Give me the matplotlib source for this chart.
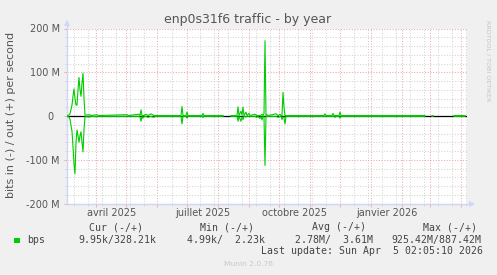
import numpy as np
import matplotlib
matplotlib.use('Agg')
import matplotlib.pyplot as plt
import matplotlib.dates as mdates
from datetime import datetime

# ---------------- data (Mbit/s) ----------------
dates = [
    '2025-03-03', '2025-03-05', '2025-03-06', '2025-03-08', '2025-03-09', '2025-03-10',
    '2025-03-11', '2025-03-12', '2025-03-13', '2025-03-14', '2025-03-15', '2025-03-16',
    '2025-03-17', '2025-03-18', '2025-03-19', '2025-03-20', '2025-03-21',
    '2025-03-26', '2025-03-27', '2025-04-02', '2025-04-03', '2025-05-02', '2025-05-03',
    '2025-05-14', '2025-05-15', '2025-05-16', '2025-05-17', '2025-05-18', '2025-05-19',
    '2025-05-21', '2025-05-23', '2025-05-26', '2025-05-29', '2025-05-30',
    '2025-06-25', '2025-06-26', '2025-06-27', '2025-06-30', '2025-07-01', '2025-07-02',
    '2025-07-16', '2025-07-17', '2025-07-18', '2025-08-06', '2025-08-07', '2025-08-14',
    '2025-08-20', '2025-08-21', '2025-08-22', '2025-08-24', '2025-08-25', '2025-08-26',
    '2025-08-27', '2025-08-29', '2025-08-30', '2025-09-01', '2025-09-02', '2025-09-07',
    '2025-09-09', '2025-09-10', '2025-09-12', '2025-09-13', '2025-09-14', '2025-09-15',
    '2025-09-16', '2025-09-17', '2025-09-18', '2025-09-19', '2025-09-20',
    '2025-09-28', '2025-09-30', '2025-10-02', '2025-10-03', '2025-10-04', '2025-10-05',
    '2025-10-06', '2025-10-07', '2025-10-08',
    '2025-11-15', '2025-11-16', '2025-11-17', '2025-11-23', '2025-11-24', '2025-11-25',
    '2025-11-26', '2025-11-27', '2025-11-30', '2025-12-01', '2025-12-02',
    '2026-02-24', '2026-02-25', '2026-03-03', '2026-03-04', '2026-03-05', '2026-03-25',
    '2026-04-05',
]
out_mbps = [
    1.0, 2, 5, 25, 45, 62,
    40, 25, 25, 60, 88, 60,
    45, 75, 98, 40, 2,
    3, 1.0, 3, 1.0, 3, 1.0,
    4, 1.0, 14, 1.0, 1.0, 1.0,
    4, 1.0, 5, 1.0, 1.0,
    1.0, 22, 1.0, 1.0, 9, 1.0,
    1.0, 6, 1.0, 1.0, np.nan, 1.0,
    1.0, 21, 1.0, 11, 2, 20,
    1.0, 9, 1.0, 6, 1.0, 4,
    1.0, 1.0, 1.0, 2, 4, 1.0,
    5, 172, 1.0, 3, 1.0,
    5, 1.0, 4, 1.0, 1.0, 54,
    20, 1.0, 1.0,
    1.0, 5, 1.0, 1.0, 6, 1.0,
    1.0, 1.0, 1.0, 9, 1.0,
    1.0, np.nan, 1.0, 1.0, np.nan, 1.0,
    1.0,
]
in_mbps = [
    0.8, 2, 8, 35, 70, 110,
    132, 60, 32, 45, 60, 45,
    36, 60, 82, 30, 1.5,
    2, 0.8, 1.5, 0.8, 0.8, 0.8,
    0.8, 2, 12, 0.8, 5, 0.8,
    0.8, 3, 0.8, 3, 0.8,
    0.8, 18, 0.8, 0.8, 5, 0.8,
    0.8, 3, 0.8, 0.8, np.nan, 0.8,
    0.8, 12, 0.8, 12, 2, 8,
    0.8, 2, 0.8, 0.8, 0.8, 0.8,
    3, 0.8, 6, 0.8, 9, 0.8,
    3, 113, 0.8, 0.8, 0.8,
    0.8, 3, 0.8, 0.8, 8, 1.5,
    4, 18, 0.8,
    0.8, 0.8, 0.8, 0.8, 0.8, 0.8,
    3, 0.8, 0.8, 5, 0.8,
    0.8, np.nan, 0.8, 0.8, np.nan, 0.8,
    0.8,
]

y_ticks = [-200, -100, 0, 100, 200]
y_tick_labels = ['-200 M', '-100 M', '0  ', '100 M', '200 M']
x_labels = ['avril 2025', 'juillet 2025', 'octobre 2025', 'janvier 2026']
x_label_dates = ['2025-04-17', '2025-07-17', '2025-10-17', '2026-01-17']

legend_header = ['Cur (-/+)', 'Min (-/+)', 'Avg (-/+)', 'Max (-/+)']
legend_values = ['9.95k/328.21k', '4.99k/  2.23k', '2.78M/  3.61M', '925.42M/887.42M']
last_update = 'Last update: Sun Apr  5 02:05:10 2026'

# ---------------- figure ----------------
W, H = 497, 275
BG = '#f0f0f0'
FONT_C = '#555555'
AXIS_C = '#cfd6f8'
GREEN = '#00cc00'
MGRID = '#f0a8a8'
GRID = '#d4d4d4'

fig = plt.figure(figsize=(W / 100, H / 100), dpi=100, facecolor=BG)
ax = fig.add_axes([67 / W, 1 - 203.5 / H, 400 / W, 175 / H])
ax.set_facecolor('white')

def d2n(s):
    return mdates.date2num(datetime.strptime(s, '%Y-%m-%d'))

x = np.array([d2n(d) for d in dates])
x0 = d2n('2025-03-03')
x1 = d2n('2026-04-07')
ax.set_xlim(x0, x1)
ax.set_ylim(-200, 200)

# grid
month_starts = [mdates.date2num(datetime(2025 + (m - 1) // 12, (m - 1) % 12 + 1, 1)) for m in range(4, 17)]
biweek = np.arange(d2n('2025-03-10'), x1, 14.0)
biweek = [b for b in biweek if min(abs(b - m) for m in month_starts) > 1.5]
ax.set_xticks(month_starts)
ax.set_xticks(biweek, minor=True)
ax.set_yticks(y_ticks)
ax.set_yticks([v for v in range(-180, 200, 20) if v % 100 != 0], minor=True)
ax.grid(True, which='minor', color=GRID, lw=0.75, linestyle=(0, (1, 1.6)))
ax.grid(True, which='major', color=MGRID, lw=0.75, linestyle=(0, (1, 1.6)))
ax.set_axisbelow(True)
ax.tick_params(axis='x', which='both', labelbottom=False)
ax.tick_params(which='major', length=2.2, width=0.7, color=MGRID, direction='out')
ax.tick_params(which='minor', length=1.6, width=0.7, color=GRID, direction='out')
ax.set_yticklabels(y_tick_labels)
ax.tick_params(axis='y', which='major', pad=2.9, labelsize=7, labelcolor=FONT_C)
for s in ax.spines.values():
    s.set_visible(False)

# axes with arrows
ax.plot([0, 0], [0, 1.03], transform=ax.transAxes, color=AXIS_C, lw=1, clip_on=False)
ax.plot([0, 1.0125], [0, 0], transform=ax.transAxes, color=AXIS_C, lw=1, clip_on=False)
ax.plot([0], [1.03], marker='^', ms=4, color=AXIS_C, transform=ax.transAxes, clip_on=False, mew=0)
ax.plot([1.0125], [0], marker='>', ms=4, color=AXIS_C, transform=ax.transAxes, clip_on=False, mew=0)

# data
ax.axhline(0, color='black', lw=0.9, zorder=2)
ax.plot(x, np.array(out_mbps), color=GREEN, lw=0.8, zorder=3)
ax.plot(x, -np.array(in_mbps), color=GREEN, lw=0.8, zorder=3)

# x labels
for lab, d in zip(x_labels, x_label_dates):
    ax.text(d2n(d), -0.052, lab, transform=ax.get_xaxis_transform(), ha='center', va='center',
            fontsize=7, color=FONT_C)

# texts
fig.text(248 / W, 1 - 19.5 / H, 'enp0s31f6 traffic - by year', ha='center', va='center',
         fontsize=9, color=FONT_C)
fig.text(11 / W, 1 - 115 / H, 'bits in (-) / out (+) per second', rotation=90, ha='center',
         va='center', fontsize=8, color=FONT_C)
fig.text(488.5 / W, 1 - 61 / H, 'RRDTOOL / TOBI OETIKER', rotation=-90, ha='center',
         va='center', fontsize=4.6, color='#c4c4c4')

mono = dict(family='DejaVu Sans Mono', fontsize=7.1, color='#444444', va='center')
for lab, xp in zip(legend_header, [89.3, 200, 311.7, 422.7]):
    fig.text(xp / W, 1 - 227.5 / H, lab, **mono)
fig.patches.append(plt.Rectangle((14 / W, 1 - 243 / H), 6 / W, 5 / H, transform=fig.transFigure,
                                 facecolor=GREEN, edgecolor='none'))
fig.text(26.7 / W, 1 - 240 / H, 'bps', **mono)
for lab, xp in zip(legend_values, [78.3, 186.7, 295, 391.7]):
    fig.text(xp / W, 1 - 240 / H, lab, **mono)
fig.text(482.7 / W, 1 - 251.5 / H, last_update, ha='right', **mono)
fig.text(248 / W, 1 - 264 / H, 'Munin 2.0.76', ha='center', va='center', fontsize=5.4,
         color='#c8c8c8')

fig.savefig('out.png', dpi=100, facecolor=BG)
